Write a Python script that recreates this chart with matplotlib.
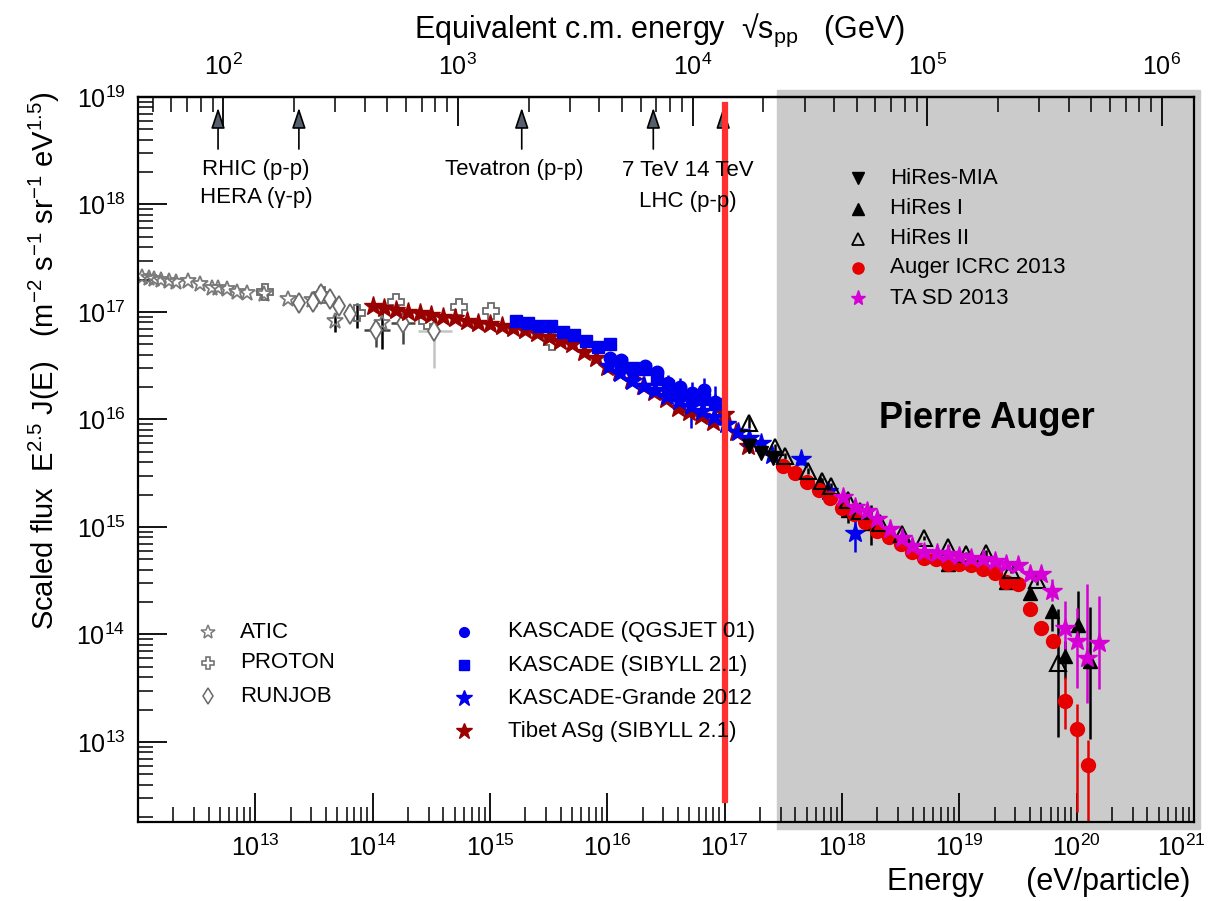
import numpy as np
import matplotlib.pyplot as plt
from matplotlib import transforms
from matplotlib.lines import Line2D
from matplotlib.patches import Rectangle

plt.rcParams['font.family'] = ['Liberation Sans', 'DejaVu Sans']
plt.rcParams['mathtext.fontset'] = 'custom'
plt.rcParams['mathtext.rm'] = 'Liberation Sans'
plt.rcParams['mathtext.it'] = 'Liberation Sans:italic'
plt.rcParams['mathtext.bf'] = 'Liberation Sans:bold'

# values: log10(E / eV) and log10(E^2.5 J(E))
# error columns are (down, up) in decades

atic_e = [12.03, 12.09, 12.14, 12.20, 12.26, 12.32, 12.43, 12.53, 12.63, 12.68,
          12.76, 12.84, 12.93, 13.07, 13.28, 13.48, 13.68, 14.08]
atic_f = [17.33, 17.32, 17.31, 17.30, 17.29, 17.28, 17.29, 17.26, 17.22, 17.22,
          17.21, 17.19, 17.18, 17.17, 17.12, 17.11, 16.92, 16.90]
atic_dn = [0, 0, 0, 0, 0, 0, 0, 0, 0, 0, 0, 0, 0, 0, 0, 0, 0.11, 0.24]
atic_up = [0, 0, 0, 0, 0, 0, 0, 0, 0, 0, 0, 0, 0, 0, 0, 0, 0.07, 0.14]

proton_e = [13.08, 13.57, 13.87, 14.20, 14.46, 14.74, 15.01, 15.53]
proton_f = [17.19, 17.16, 16.99, 17.09, 16.92, 17.05, 17.01, 16.72]
proton_dn = [0, 0, 0.14, 0, 0, 0, 0, 0]
proton_up = [0, 0, 0.09, 0, 0, 0, 0, 0]

runjob_e = [13.37, 13.49, 13.56, 13.64, 13.71, 13.81, 14.03, 14.26, 14.52]
runjob_f = [17.08, 17.09, 17.17, 17.12, 17.06, 16.98, 16.83, 16.90, 16.82]
runjob_dn = [0, 0, 0, 0, 0, 0, 0.16, 0.20, 0.34]
runjob_up = [0, 0, 0, 0, 0, 0, 0.08, 0.03, 0.13]
runjob_xdn = [0, 0, 0, 0, 0, 0, 0.10, 0.10, 0.135]
runjob_xup = [0, 0, 0, 0, 0, 0, 0.12, 0.10, 0.155]
runjob_ecol = ['#444444'] * 8 + ['#c4c4c4']

tibet_e = [14.0, 14.1, 14.2, 14.3, 14.4, 14.5, 14.6, 14.7, 14.8, 14.9, 15.0,
           15.1, 15.2, 15.3, 15.4, 15.5, 15.6, 15.7, 15.8, 15.9, 16.0, 16.1,
           16.2, 16.3, 16.4, 16.5, 16.6, 16.7, 16.8, 16.9, 17.0, 17.1, 17.2]
tibet_f = [17.06, 17.04, 17.02, 17.00, 16.99, 16.97, 16.95, 16.94, 16.92, 16.90,
           16.89, 16.87, 16.85, 16.83, 16.80, 16.77, 16.73, 16.70, 16.63, 16.57,
           16.49, 16.44, 16.37, 16.31, 16.26, 16.19, 16.11, 16.07, 16.03, 15.98,
           16.05, 15.88, 15.75]

kas_sib_e = [15.22, 15.32, 15.42, 15.52, 15.62, 15.72, 15.82, 15.92, 16.02,
             16.12, 16.22, 16.32, 16.42, 16.52, 16.62, 16.72, 16.82, 16.92]
kas_sib_f = [16.92, 16.90, 16.87, 16.87, 16.81, 16.79, 16.73, 16.67, 16.70,
             16.53, 16.48, 16.47, 16.38, 16.31, 16.25, 16.21, 16.19, 16.14]
kas_sib_err = [0.01, 0.01, 0.01, 0.01, 0.01, 0.01, 0.01, 0.01, 0.01,
               0.02, 0.02, 0.03, 0.03, 0.04, 0.05, 0.06, 0.08, 0.10]

kas_qgs_e = [16.02, 16.12, 16.22, 16.32, 16.42, 16.52, 16.62, 16.72, 16.82, 16.92]
kas_qgs_f = [16.57, 16.55, 16.44, 16.50, 16.44, 16.34, 16.30, 16.25, 16.27, 16.16]
kas_qgs_dn = [0.02, 0.02, 0.03, 0.04, 0.05, 0.07, 0.12, 0.16, 0.18, 0.16]
kas_qgs_up = [0.02, 0.02, 0.03, 0.04, 0.06, 0.07, 0.09, 0.10, 0.12, 0.15]

grande_e = [16.01, 16.11, 16.21, 16.31, 16.41, 16.51, 16.61, 16.71, 16.81,
            16.91, 17.01, 17.11, 17.21, 17.31, 17.40, 17.65, 17.88, 18.11]
grande_f = [16.50, 16.43, 16.36, 16.31, 16.27, 16.22, 16.17, 16.13, 16.08,
            16.02, 15.96, 15.88, 15.83, 15.78, 15.67, 15.63, 15.33, 14.94]
grande_dn = [0.02, 0.02, 0.02, 0.02, 0.03, 0.03, 0.04, 0.21, 0.05,
             0.05, 0.04, 0.04, 0.04, 0.04, 0.05, 0.05, 0.06, 0.17]
grande_up = [0.02, 0.02, 0.02, 0.02, 0.03, 0.03, 0.04, 0.08, 0.05,
             0.05, 0.04, 0.04, 0.04, 0.04, 0.05, 0.05, 0.06, 0.13]

mia_e = [17.21, 17.31, 17.41]
mia_f = [15.75, 15.69, 15.64]
mia_dn = [0.06, 0.05, 0.05]
mia_up = [0.04, 0.04, 0.04]

hires1_e = [17.81, 18.05, 18.25, 18.90, 19.40, 19.60, 19.79, 19.90, 20.01, 20.11]
hires1_f = [15.41, 15.16, 15.04, 14.66, 14.49, 14.39, 14.22, 13.80, 14.09, 13.75]
hires1_dn = [0.03, 0.12, 0.21, 0.03, 0.03, 0.04, 0.19, 0.21, 0.16, 0.72]
hires1_up = [0.03, 0.04, 0.16, 0.03, 0.03, 0.04, 0.04, 0.14, 0.31, 0.51]

hires2_e = [17.21, 17.43, 17.51, 17.71, 17.83, 17.91, 18.05, 18.15, 18.32,
            18.51, 18.70, 18.90, 19.06, 19.23, 19.44, 19.66, 19.84]
hires2_f = [15.97, 15.74, 15.66, 15.52, 15.43, 15.38, 15.25, 15.15, 15.04,
            14.93, 14.90, 14.81, 14.75, 14.76, 14.60, 14.51, 13.73]
hires2_dn = [0.05, 0.03, 0.03, 0.03, 0.03, 0.03, 0.03, 0.03, 0.03,
             0.02, 0.02, 0.02, 0.02, 0.03, 0.03, 0.05, 0.68]
hires2_up = [0.05, 0.03, 0.03, 0.03, 0.03, 0.03, 0.03, 0.03, 0.03,
             0.02, 0.02, 0.02, 0.02, 0.03, 0.03, 0.05, 0.51]

auger_e = [17.5, 17.6, 17.7, 17.8, 17.9, 18.0, 18.1, 18.2, 18.3, 18.4, 18.5,
           18.6, 18.7, 18.8, 18.9, 19.0, 19.1, 19.2, 19.3, 19.4, 19.5, 19.6,
           19.7, 19.8, 19.9, 20.0, 20.1]
auger_f = [15.57, 15.50, 15.42, 15.34, 15.27, 15.18, 15.12, 15.05, 14.96, 14.91,
           14.84, 14.77, 14.71, 14.70, 14.66, 14.66, 14.65, 14.61, 14.57, 14.49,
           14.47, 14.24, 14.06, 13.94, 13.38, 13.12, 12.79]
auger_dn = [0.01] * 21 + [0.02, 0.03, 0.06, 0.26, 0.77, 0.60]
auger_up = [0.01] * 21 + [0.02, 0.03, 0.06, 0.22, 0.23, 0.23]

ta_e = [18.01, 18.11, 18.21, 18.30, 18.41, 18.51, 18.60, 18.70, 18.81, 18.90,
        19.00, 19.10, 19.20, 19.30, 19.40, 19.50, 19.60, 19.70, 19.79, 19.90,
        20.00, 20.09, 20.19]
ta_f = [15.28, 15.19, 15.15, 15.07, 14.98, 14.90, 14.82, 14.77, 14.76, 14.75,
        14.73, 14.71, 14.70, 14.68, 14.66, 14.65, 14.56, 14.56, 14.40, 14.06,
        13.94, 13.78, 13.92]
ta_dn = [0.02] * 16 + [0.03, 0.03, 0.09, 0.22, 0.44, 0.42, 0.43]
ta_up = [0.02] * 16 + [0.03, 0.03, 0.12, 0.25, 0.31, 0.69, 0.44]

# collider reference points (sqrt(s) in GeV)
collider_sqrts = [95, 210, 1870, 6800, 13500]
auger_start = 2.8e17      # start of shaded Auger range (eV)
knee_line = 1e17          # red marker line (eV)
x_major = [1e13, 1e14, 1e15, 1e16, 1e17, 1e18, 1e19, 1e20, 1e21]
y_major = [1e13, 1e14, 1e15, 1e16, 1e17, 1e18, 1e19]
top_major = [1e2, 1e3, 1e4, 1e5, 1e6]

W, H = 1213, 901


def fx(px):
    return px / W


def fy(py):
    return 1 - py / H


fig = plt.figure(figsize=(W / 100, H / 100), dpi=100)
ax = fig.add_axes([fx(138), fy(822), fx(1194) - fx(138), fy(97) - fy(822)])
ax.set_xscale('log')
ax.set_yscale('log')
ax.set_xlim(1e12, 1e21)
ax.set_ylim(1.8e12, 1e19)
ax.set_xticks(x_major)
ax.set_yticks(y_major)


def draw(e, f, dn=None, up=None, xdn=None, xup=None, ecolor=None, **kw):
    x = np.power(10.0, e)
    y = np.power(10.0, f)
    yerr = xerr = None
    if dn is not None:
        yerr = [y - y / np.power(10.0, dn), y * np.power(10.0, up) - y]
    if xdn is not None:
        xerr = [x - x / np.power(10.0, xdn), x * np.power(10.0, xup) - x]
    ax.errorbar(x, y, yerr=yerr, xerr=xerr, ls='none', ecolor=ecolor,
                elinewidth=1.8, capsize=0, **kw)


draw(atic_e, atic_f, atic_dn, atic_up, ecolor='black', marker='*', ms=12,
     mfc='none', mec='#7a7a7a', mew=1.3)
draw(proton_e, proton_f, proton_dn, proton_up, ecolor='black', marker='P', ms=11,
     mfc='none', mec='#6a6a6a', mew=1.3)
for i in range(len(runjob_e)):
    draw(runjob_e[i:i + 1], runjob_f[i:i + 1], runjob_dn[i:i + 1], runjob_up[i:i + 1],
         runjob_xdn[i:i + 1], runjob_xup[i:i + 1], ecolor=runjob_ecol[i],
         marker='d', ms=10, mfc='white', mec='#6a6a6a', mew=1.3)
draw(tibet_e, tibet_f, marker='*', ms=14, color='#990000', mec='#990000')
draw(kas_sib_e, kas_sib_f, kas_sib_err, kas_sib_err, ecolor='#0000ee',
     marker='s', ms=9, color='#0000ee')
draw(kas_qgs_e, kas_qgs_f, kas_qgs_dn, kas_qgs_up, ecolor='#0000ee',
     marker='o', ms=9, color='#0000ee')
draw(grande_e, grande_f, grande_dn, grande_up, ecolor='#0000ee',
     marker='*', ms=15, color='#0000ee')
draw(mia_e, mia_f, mia_dn, mia_up, ecolor='black', marker='v', ms=10, color='black')
draw(hires1_e, hires1_f, hires1_dn, hires1_up, ecolor='black', marker='^', ms=10,
     color='black')
draw(auger_e, auger_f, auger_dn, auger_up, ecolor='#e60000', marker='o', ms=10,
     color='#e60000')
draw(hires2_e, hires2_f, hires2_dn, hires2_up, ecolor='black', marker='^', ms=11,
     mfc='none', mec='black', mew=1.5)
draw(ta_e, ta_f, ta_dn, ta_up, ecolor='#d600d6', marker='*', ms=15, color='#d600d6')

# shaded Auger energy range, running slightly past the frame
trans = transforms.blended_transform_factory(ax.transData, ax.transAxes)
ax.add_patch(Rectangle((auger_start, -0.009), 1.12e21 - auger_start, 1.018,
                       transform=trans, color='#cbcbcb', zorder=-1, clip_on=False))

ax.plot([knee_line, knee_line], [2.9e12, 8.4e18], color='#ff3030', lw=4.5, zorder=10)

# top axis: equivalent centre-of-mass energy
mp = 0.938


def e_to_sqrts(E):
    return np.sqrt(2 * mp * np.abs(np.asarray(E, dtype=float)) / 1e9)


def sqrts_to_e(s):
    return np.asarray(s, dtype=float) ** 2 * 1e9 / (2 * mp)


secax = ax.secondary_xaxis('top', functions=(e_to_sqrts, sqrts_to_e))
secax.set_zorder(5)
secax.set_xticks(top_major)

for a in (ax, secax):
    a.tick_params(which='major', direction='in', length=21, width=1.3, labelsize=18)
    a.tick_params(which='minor', direction='in', length=11, width=1.1)
ax.tick_params(axis='x', pad=9)
ax.tick_params(axis='y', pad=9)
secax.tick_params(pad=12)
for s in ax.spines.values():
    s.set_linewidth(1.6)
secax.spines['top'].set_linewidth(1.6)

# keep the 10^21 label inside the picture, as in the original
last = ax.xaxis.get_major_ticks()[-1].label1
last.set_transform(last.get_transform() +
                   transforms.ScaledTranslation(-9 / 72, 0, fig.dpi_scale_trans))

# collider arrows
for s in collider_sqrts:
    E = sqrts_to_e(s)
    ax.annotate('', xy=(E, 10 ** 18.925), xytext=(E, 10 ** 18.49),
                arrowprops=dict(arrowstyle='-|>,head_length=0.9,head_width=0.3',
                                mutation_scale=14, fc='#56606c', ec='black', lw=1.2))

txt = dict(fontsize=16, ha='center', va='center')
fig.text(fx(256), fy(170), 'RHIC (p-p)', **txt)
fig.text(fx(256), fy(198), 'HERA (γ-p)', **txt)
fig.text(fx(514), fy(170), 'Tevatron (p-p)', **txt)
fig.text(fx(688), fy(170), '7 TeV 14 TeV', **txt)
fig.text(fx(688), fy(201), 'LHC (p-p)', **txt)

fig.text(fx(987), fy(418), 'Pierre Auger', fontsize=26, fontweight='bold',
         ha='center', va='center')

# axis titles
fig.text(fx(660), fy(30), 'Equivalent c.m. energy  √s$_{\\rm pp}$   (GeV)',
         fontsize=22, ha='center', va='center')
fig.text(fx(1190), fy(882), 'Energy     (eV/particle)', fontsize=22,
         ha='right', va='center')
fig.text(fx(44), fy(361),
         r'Scaled flux  E$^{2.5}$ J(E)   (m$^{-2}$ s$^{-1}$ sr$^{-1}$ eV$^{1.5}$)',
         fontsize=21, rotation=90, ha='center', va='center')


def key(xm, xt, y, label, **mk):
    fig.add_artist(Line2D([fx(xm)], [fy(y)], transform=fig.transFigure,
                          ls='none', **mk))
    fig.text(fx(xt), fy(y), label, fontsize=16, ha='left', va='center')


key(858, 890, 178, 'HiRes-MIA', marker='v', ms=8, color='black')
key(858, 890, 209, 'HiRes I', marker='^', ms=8, color='black')
key(858, 890, 239, 'HiRes II', marker='^', ms=8, mfc='none', mec='black', mew=1.3)
key(858, 890, 268, 'Auger ICRC 2013', marker='o', ms=8, color='#e60000')
key(858, 890, 298, 'TA SD 2013', marker='*', ms=11, color='#d600d6')

key(208, 240, 632, 'ATIC', marker='*', ms=10, mfc='none', mec='#7a7a7a', mew=1.1)
key(208, 240, 663, 'PROTON', marker='P', ms=8, mfc='none', mec='#6a6a6a', mew=1.1)
key(208, 240, 696, 'RUNJOB', marker='d', ms=8, mfc='none', mec='#6a6a6a', mew=1.1)

key(464, 508, 632, 'KASCADE (QGSJET 01)', marker='o', ms=7, color='#0000ee')
key(464, 508, 665, 'KASCADE (SIBYLL 2.1)', marker='s', ms=7, color='#0000ee')
key(464, 508, 698, 'KASCADE-Grande 2012', marker='*', ms=12, color='#0000ee')
key(464, 508, 731, 'Tibet ASg (SIBYLL 2.1)', marker='*', ms=12, color='#990000')

fig.savefig('out.png', dpi=100)
